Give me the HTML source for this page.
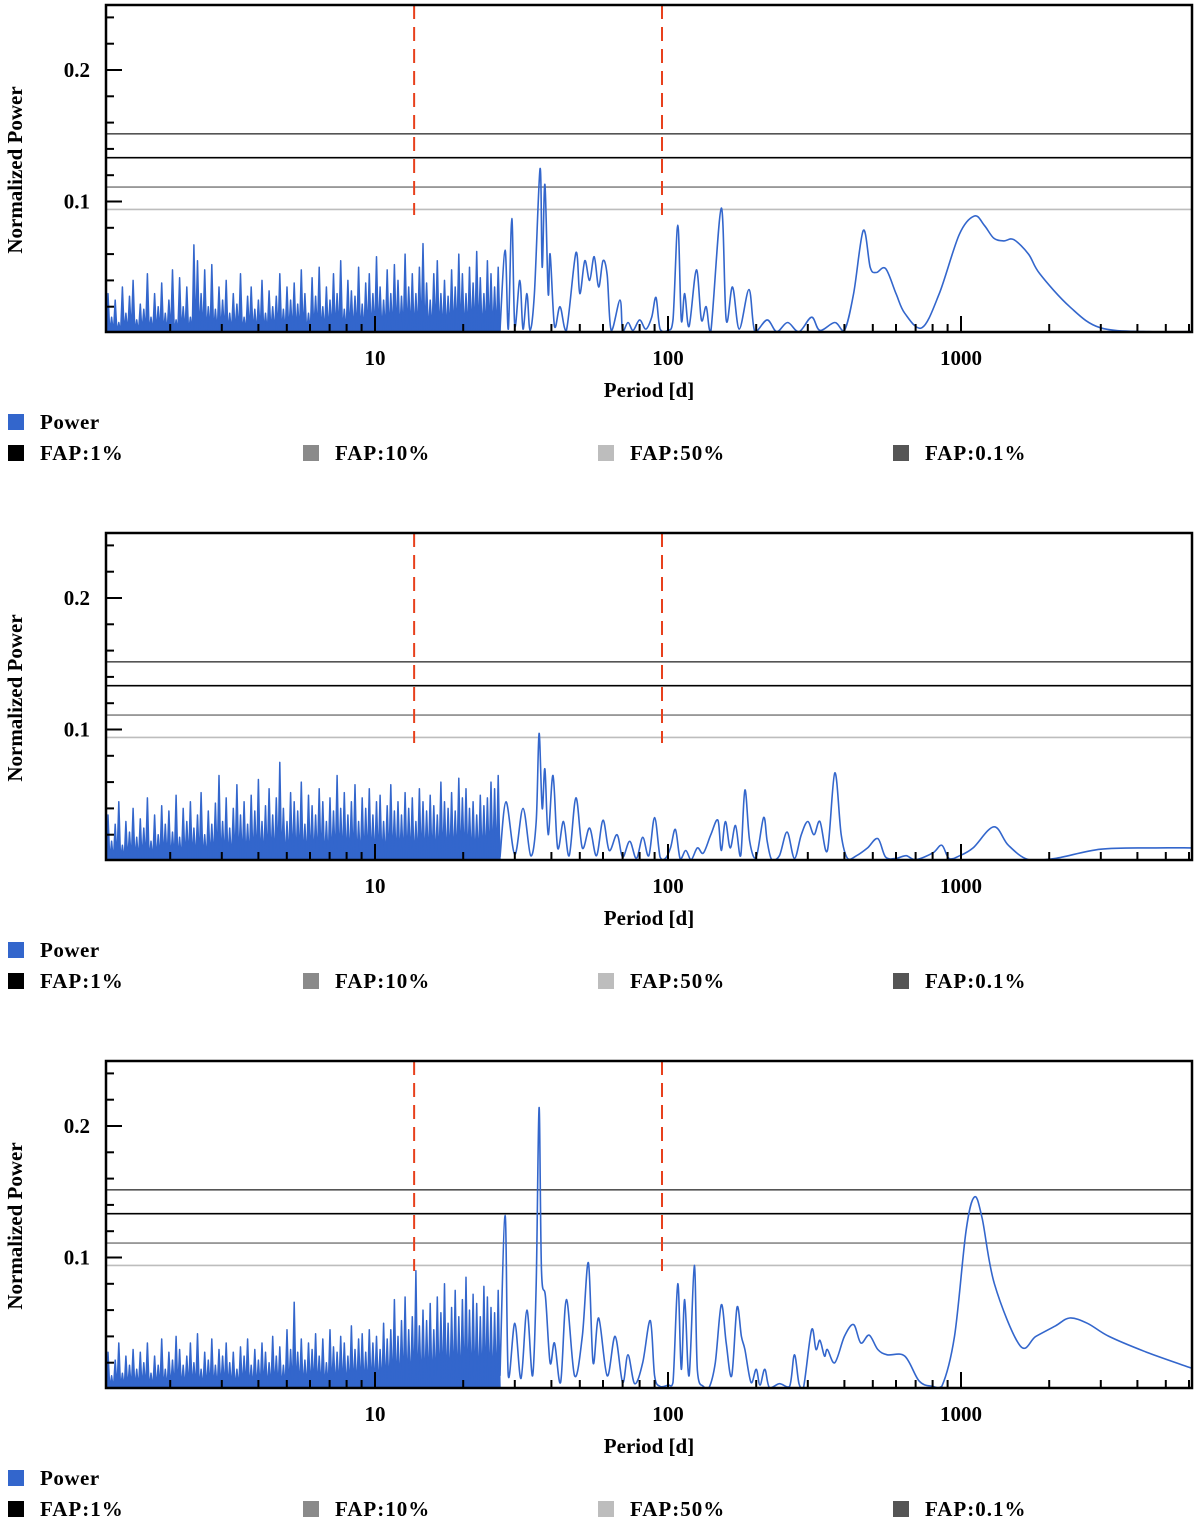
<!DOCTYPE html>
<html><head><meta charset="utf-8"><style>
html,body{margin:0;padding:0;background:#fff;width:1200px;height:1525px;overflow:hidden}
svg{display:block}
text{font-family:"Liberation Serif",serif;font-weight:bold;fill:#000}
</style></head><body>
<svg id="fig" width="1200" height="1525" viewBox="0 0 1200 1525"></svg>
<script>
// ---- data ----
const xTickValues=[10,100,1000];
const xTickLabels=["10","100","1000"];
const yTickValues=[0.1,0.2];
const yTickLabels=["0.1","0.2"];
const markerPeriods=[13.6,95.4];
const fapLevels=[0.1515,0.1333,0.111,0.094];
const fapNames=["FAP:0.1%","FAP:1%","FAP:10%","FAP:50%"];
const fapColors=["#555","#000","#8a8a8a","#bdbdbd"];
const noise1=[30,12,25,8,35,15,28,40,10,22,18,45,12,30,20,38,15,25,48,10,42,20,35,12,67,55,30,48,20,52,18,35,25,40,15,30,22,45,12,28,35,18,25,40,15,32,20,28,45,18,35,25,38,22,48,30,15,42,28,50,20,35,25,45,30,55,18,40,32,28,50,22,38,45,30,58,35,25,48,30,52,40,28,60,35,45,30,50,68,38,25,45,55,30,40,28,48,35,60,45,30,50,38,62,42,30,55,45,35,50];
const noise2=[35,15,28,45,12,30,22,40,18,32,25,48,15,35,20,42,28,38,22,50,18,40,30,45,25,35,52,20,38,28,44,65,30,48,25,40,58,35,45,28,50,38,62,30,42,55,35,48,75,40,30,52,45,38,60,28,50,42,35,55,45,30,48,38,65,40,52,35,45,58,30,48,40,55,35,45,50,30,42,58,38,45,35,52,40,48,30,55,45,38,50,42,35,60,45,40,52,38,63,48,55,40,45,35,50,42,48,60,55,65];
const noise3=[28,10,22,35,12,25,18,30,15,28,20,35,12,25,18,38,15,28,22,40,30,18,25,35,20,42,15,28,22,38,18,30,25,35,20,28,15,32,25,38,18,30,22,35,28,20,40,25,32,18,45,30,66,28,38,22,35,30,42,25,38,20,45,32,28,40,35,25,48,30,38,42,28,45,35,40,30,50,38,45,68,40,52,70,45,55,90,48,60,52,65,45,70,58,80,50,62,75,55,68,85,60,72,65,55,78,70,62,58,75];
const series1P=[26.7,27.8,28.5,29.3,30,31.2,32,33,33.8,35,36.6,37.2,38.0,39,39.6,41,42.8,45,48.5,50,52,54,56,58,60,62,64,68.6,70,73,76,80,84,88,91,94,100,104,108,111,114,118,125,130,135,140,152,158,166,175,189,198,218,235,256,280,309,330,371,400,430,464,490,514,553,600,643,736,843,987,1111,1200,1295,1400,1513,1700,1857,2350,2985,4380,6100];
const series1V=[0.002,0.063,0.003,0.087,0.005,0.04,0.003,0.03,0.002,0.03,0.125,0.05,0.113,0.03,0.06,0.005,0.02,0.002,0.061,0.03,0.055,0.04,0.058,0.035,0.055,0.044,0.002,0.025,0.001,0.008,0.002,0.01,0.003,0.012,0.027,0.003,0.002,0.01,0.082,0.01,0.03,0.005,0.048,0.01,0.02,0.001,0.095,0.01,0.035,0.003,0.033,0.001,0.01,0.001,0.008,0.001,0.012,0.002,0.008,0.002,0.03,0.078,0.05,0.046,0.049,0.03,0.015,0.004,0.03,0.075,0.089,0.082,0.072,0.07,0.071,0.06,0.045,0.02,0.004,0.001,0.001];
const series2P=[26.7,28,30,32,34,35.5,36.3,37.2,38,39,40.5,42,44,46,48.5,51,54,57,60,63,67,70,74,78,82,86,90,94,98,102,106,110,115,120,126,132,140,148,152,157,163,170,177,183,190,200,212,218,226,240,255,270,285,300,315,330,350,371,390,410,440,480,520,553,600,650,700,800,860,910,990,1100,1295,1450,1700,2100,3000,4500,6100];
const series2V=[0.003,0.045,0.005,0.04,0.004,0.03,0.097,0.04,0.07,0.02,0.065,0.01,0.03,0.004,0.048,0.01,0.025,0.004,0.031,0.008,0.02,0.003,0.015,0.002,0.018,0.004,0.033,0.003,0.002,0.01,0.024,0.002,0.008,0.001,0.01,0.006,0.02,0.031,0.008,0.03,0.01,0.027,0.004,0.054,0.015,0.003,0.033,0.015,0.001,0.004,0.022,0.002,0.02,0.03,0.02,0.03,0.008,0.067,0.02,0.002,0.004,0.01,0.017,0.003,0.002,0.004,0.001,0.006,0.012,0.002,0.004,0.01,0.026,0.012,0.001,0.002,0.009,0.01,0.01];
const series3P=[26.7,27.8,28.5,30,31.5,33,34.5,35.5,36.3,37,
 38.2,39.6,41,43,45,48,51,53.5,55.5,58,
 62,66,70,73,77,82,87,90,94,100,
 104,108,111,114,118,123,126,132,138,145,
 152,158,165,172,178,183,192,200,206,214,
 222,240,260,270,280,290,309,320,330,342,
 350,371,400,430,455,486,520,560,643,720,
 800,860,950,1040,1111,1180,1300,1590,1800,2100,
 2350,2700,3200,4300,6100];
const series3V=[0.01,0.132,0.01,0.05,0.008,0.06,0.01,0.08,0.214,0.09,
 0.07,0.02,0.035,0.005,0.068,0.01,0.04,0.096,0.02,0.054,
 0.01,0.04,0.005,0.026,0.004,0.02,0.052,0.01,0.002,0.003,
 0.005,0.08,0.015,0.068,0.01,0.094,0.014,0.002,0.001,0.02,
 0.064,0.035,0.01,0.062,0.04,0.03,0.005,0.015,0.003,0.015,
 0.001,0.004,0.002,0.026,0.004,0.001,0.045,0.03,0.037,0.025,
 0.03,0.02,0.04,0.049,0.035,0.041,0.03,0.026,0.025,0.006,
 0.002,0.002,0.04,0.12,0.146,0.13,0.08,0.033,0.04,0.048,
 0.054,0.05,0.04,0.028,0.016];
const panels=[
 {off:0,noise:noise1,P:series1P,V:series1V},
 {off:528,noise:noise2,P:series2P,V:series2V},
 {off:1056,noise:noise3,P:series3P,V:series3V}];
// ---- scales ----
const L=106,R=1192,TOP=5,BOT=332;
function xOf(p){return 375+(Math.log10(p)-1)*293;}
function yOf(v,off){return off+333-v*1315;}
const NS="http://www.w3.org/2000/svg";
const svg=document.getElementById('fig');
function mk(tag,attrs,parent){const e=document.createElementNS(NS,tag);for(const k in attrs)e.setAttribute(k,attrs[k]);(parent||svg).appendChild(e);return e;}
const blue="#3366cc";
panels.forEach((pd,pi)=>{
 const off=pd.off;
 const g=mk('g',{});
 
 
 const cp=mk('clipPath',{id:'clip'+pi},g);
 mk('rect',{x:L,y:off+TOP,width:R-L,height:BOT-TOP},cp);
 fapLevels.forEach((lv,i)=>{
  const ln=mk('line',{x1:L,x2:R,y1:yOf(lv,off),y2:yOf(lv,off),stroke:fapColors[i],'stroke-width':1.6},g);
  
  
 });
 markerPeriods.forEach((p,i)=>{
  const ln=mk('line',{x1:xOf(p),x2:xOf(p),y1:off+TOP,y2:off+215,stroke:'#e8401c','stroke-width':2,'stroke-dasharray':'14 8'},g);
  
  
 });
 const lp0=Math.log10(1.21),lp1=Math.log10(26.7),n=pd.noise.length;
 let d='';
 pd.noise.forEach((v,i)=>{
  const pa=Math.pow(10,lp0+(i)/n*(lp1-lp0));
  const pb=Math.pow(10,lp0+(i+0.5)/n*(lp1-lp0));
  d+=(i?'L':'M')+xOf(pa).toFixed(1)+','+yOf(0,off).toFixed(1)+'L'+xOf(pb).toFixed(1)+','+yOf(v/1000,off).toFixed(1);
 });
 d+='L'+xOf(26.7).toFixed(1)+','+yOf(0,off).toFixed(1)+'Z';
 const nz=mk('path',{d:d,fill:blue,stroke:blue,'stroke-width':1.5,'stroke-linejoin':'round','clip-path':'url(#clip'+pi+')'},g);
 
 
 const pts=pd.P.map((p,i)=>[xOf(p),yOf(pd.V[i],off)]);
 let s='M'+pts[0][0].toFixed(1)+','+pts[0][1].toFixed(1);
 for(let i=0;i<pts.length-1;i++){
  const p0=pts[Math.max(0,i-1)],p1=pts[i],p2=pts[i+1],p3=pts[Math.min(pts.length-1,i+2)];
  const c1x=p1[0]+(p2[0]-p0[0])/6,c1y=Math.min(off+333,p1[1]+(p2[1]-p0[1])/6);
  const c2x=p2[0]-(p3[0]-p1[0])/6,c2y=Math.min(off+333,p2[1]-(p3[1]-p1[1])/6);
  s+='C'+c1x.toFixed(1)+','+c1y.toFixed(1)+' '+c2x.toFixed(1)+','+c2y.toFixed(1)+' '+p2[0].toFixed(1)+','+p2[1].toFixed(1);
 }
 const sp=mk('path',{d:s,fill:'none',stroke:blue,'stroke-width':1.6,'clip-path':'url(#clip'+pi+')'},g);
 
 
 const bx=mk('rect',{x:L,y:off+TOP,width:R-L,height:BOT-TOP,fill:'none',stroke:'#000','stroke-width':2.5},g);
 
 
 for(let k=1;k<=12;k++){
  const v=k*0.02, y=yOf(v,off); if(y<off+TOP+3)continue;
  const major=Math.abs(v-0.1)<1e-6||Math.abs(v-0.2)<1e-6;
  mk('line',{x1:L,x2:L+(major?16:8),y1:y,y2:y,stroke:'#000','stroke-width':2},g);
 }
 yTickValues.forEach((v,i)=>{
  const t=mk('text',{x:90,y:yOf(v,off)+7,'text-anchor':'end','font-size':21},g);
  t.textContent=yTickLabels[i];
  
  
 });
 [1,10,100,1000].forEach(dec=>{
  for(let m=1;m<=9;m++){
   const p=dec*m, x=xOf(p); if(x<L+2||x>R-2)continue;
   const major=m===1;
   mk('line',{x1:x,x2:x,y1:off+BOT,y2:off+BOT-(major?16:8),stroke:'#000','stroke-width':2},g);
  }
 });
 xTickValues.forEach((v,i)=>{
  const t=mk('text',{x:xOf(v),y:off+365,'text-anchor':'middle','font-size':21},g);
  t.textContent=xTickLabels[i];
  
  
 });
 const xt=mk('text',{x:649,y:off+397,'text-anchor':'middle','font-size':21},g);
 xt.textContent='Period [d]';
 
 
 const yt=mk('text',{x:0,y:0,'text-anchor':'middle','font-size':21,transform:'translate(22,'+(off+170)+') rotate(-90)'},g);
 yt.textContent='Normalized Power';
 
 
 const lg=mk('g',{},g);
 
 
 mk('rect',{x:8,y:off+414,width:16,height:16,fill:blue},lg);
 const lt=mk('text',{x:40,y:off+429,'font-size':21,'letter-spacing':'0.5px'},lg);
 lt.textContent='Power';
 
 
 const order=[1,2,3,0];
 order.forEach((fi,j)=>{
  const x=8+j*295;
  mk('rect',{x:x,y:off+445,width:16,height:16,fill:fapColors[fi]},lg);
  const t=mk('text',{x:x+32,y:off+460,'font-size':21,'letter-spacing':'1px'},lg);
  t.textContent=fapNames[fi];
  
  
 });
});
</script>
</body></html>
